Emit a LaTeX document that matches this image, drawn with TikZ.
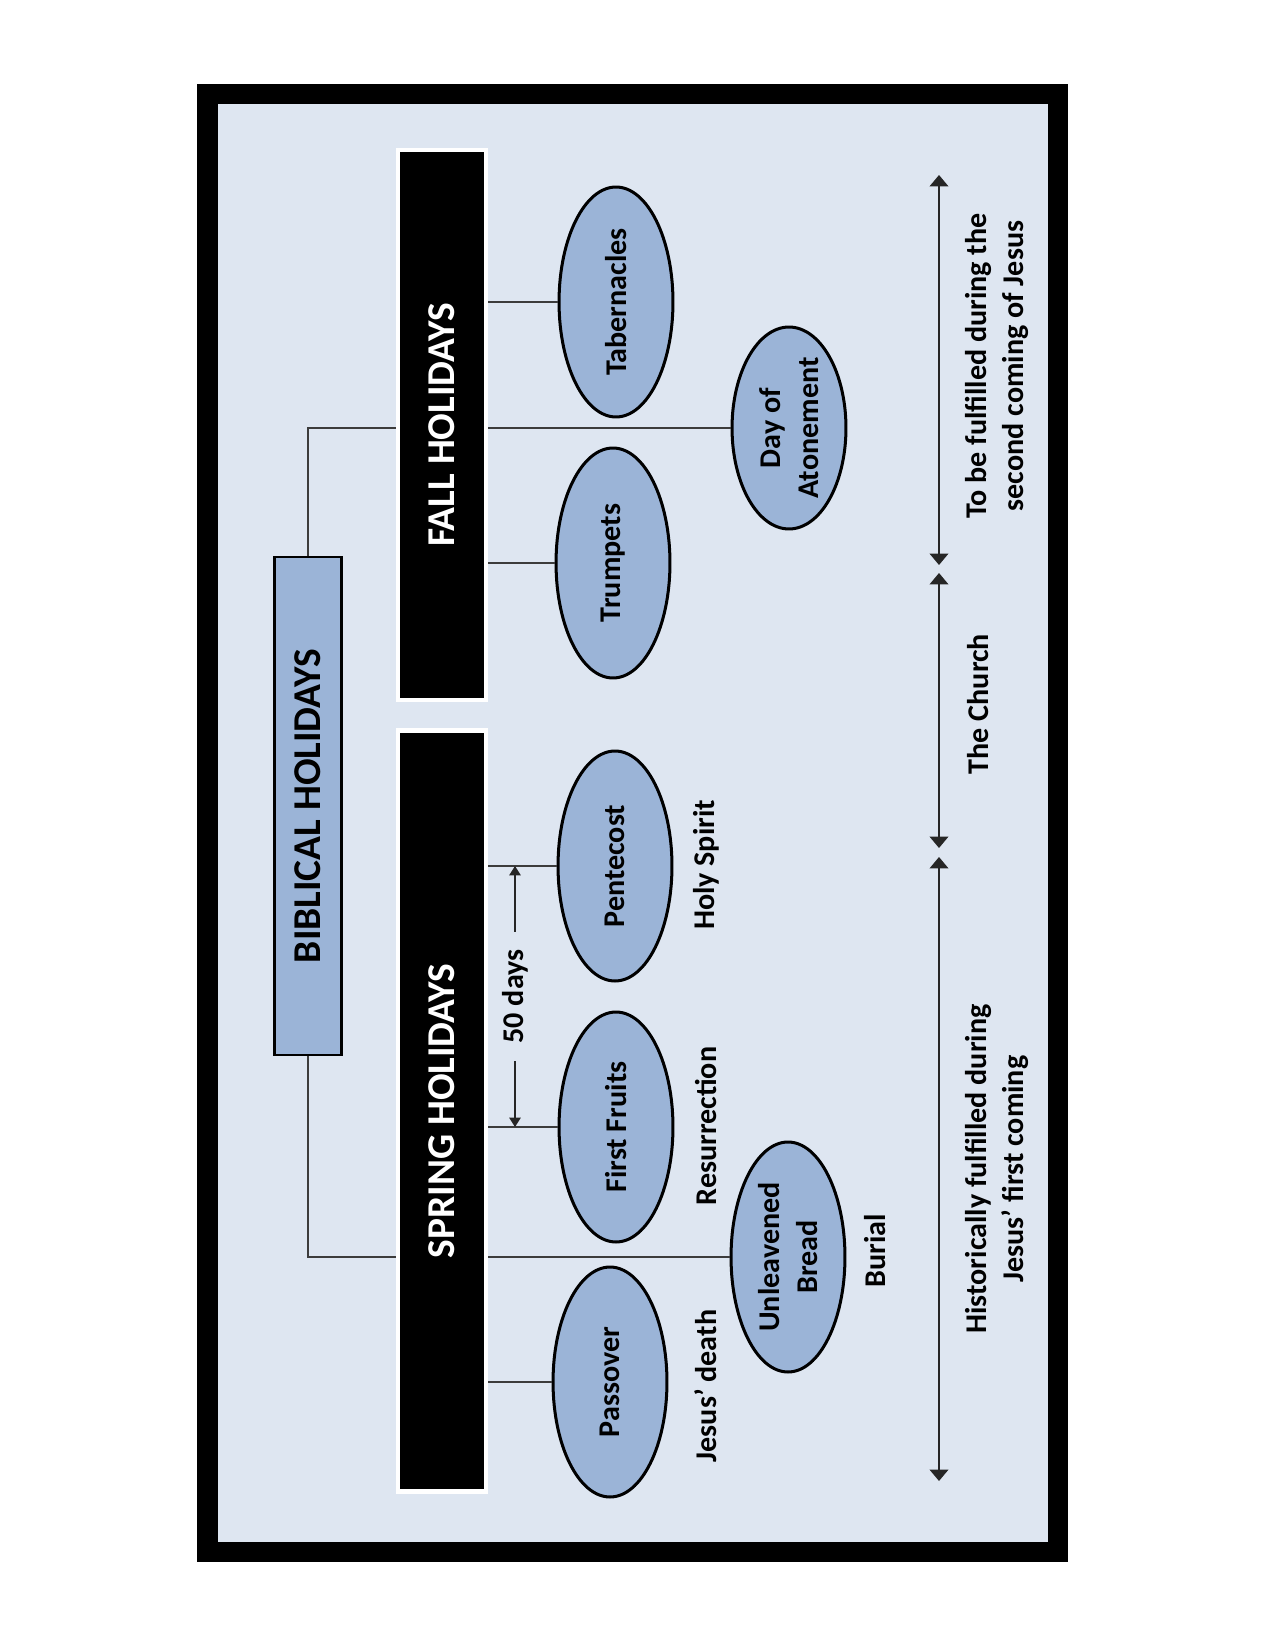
\documentclass[tikz,border=0pt]{standalone}
\usepackage{fontspec}
\setmainfont{Carlito}
\usetikzlibrary{shapes.geometric,arrows.meta}

\definecolor{paleblue}{HTML}{DEE6F1}
\definecolor{feastblue}{HTML}{9BB4D7}
\definecolor{linkgray}{HTML}{3C3C3C}

\tikzset{
  feast/.style={ellipse, draw=black, line width=1.45pt, fill=feastblue, rotate=90, inner sep=0pt,
     minimum width=110.8pt, minimum height=54.9pt, align=center,
     font=\bfseries\fontsize{14.5}{18}\selectfont},
  season/.style={rectangle, fill=black, draw=white, line width=2pt, rotate=90, text=white,
     minimum height=42.4pt, font=\bfseries\fontsize{19}{23}\selectfont},
  note/.style={rotate=90, align=center, inner sep=0pt, font=\bfseries\fontsize{14.5}{18}\selectfont},
  link/.style={draw=linkgray, line width=0.9pt},
  span/.style={draw=black!85, line width=0.8pt, {Triangle[width=9pt,length=5.5pt]}-{Triangle[width=9pt,length=5.5pt]}},
  days/.style={draw=black!85, line width=0.7pt, {Triangle[width=5.5pt,length=4.5pt]}-{Triangle[width=5.5pt,length=4.5pt]}}
}

\begin{document}
\begin{tikzpicture}[x=0.4818pt, y=-0.4818pt]
            \useasboundingbox (0,0) rectangle (1275,1650);
            \draw[line width=9.64pt, fill=paleblue] (207.5,94.5) rectangle (1057.5,1551.5);

            \node[rectangle, draw=black, line width=1.2pt, fill=feastblue, rotate=90, minimum width=239.9pt,
               minimum height=32.3pt, font=\bfseries\fontsize{19}{23}\selectfont] (bib) at (308,806) {BIBLICAL HOLIDAYS};
            \node[season, minimum width=265pt] (fall) at (442,425) {FALL HOLIDAYS};
            \node[season, minimum width=366.6pt] (spring) at (442,1111) {SPRING HOLIDAYS};

            \node[feast] (tab) at (616,302) {Tabernacles};
            \node[feast] (trum) at (613,563) {Trumpets};
            \node[feast, minimum width=97.3pt] (atone) at (789,428) {Day of\\Atonement};
            \node[feast] (pent) at (615,866) {Pentecost};
            \node[feast] (ffruit) at (616,1127) {First Fruits};
            \node[feast] (unl) at (788,1257) {Unleavened\\Bread};
            \node[feast] (pass) at (610,1382) {Passover};

            \node[note] (spirit) at (706,865) {Holy Spirit};
            \node[note] (resur) at (706,1126) {Resurrection};
            \node[note] (death) at (706,1386) {Jesus’ death};
            \node[note] (burial) at (875,1251) {Burial};
            \node[note] (second) at (997,366) {To be fulfilled during the\\second coming of Jesus};
            \node[note] (church) at (978,704) {The Church};
            \node[note] (first) at (997,1169) {Historically fulfilled during\\Jesus’ first coming};

            \draw[link] (bib.east) |- (fall.north |- atone);
            \draw[link] (bib.west) |- (spring.north |- unl);
            \foreach \f in {tab,trum,atone} \draw[link] (fall.south |- \f) -- (\f.north);
            \foreach \s in {pent,ffruit,unl,pass} \draw[link] (spring.south |- \s) -- (\s.north);

            \coordinate (dx) at (515,0);
            \draw[days] (dx |- pent) -- (dx |- ffruit) node[midway, rotate=90, fill=paleblue, inner xsep=8.7pt, inner ysep=1pt,
               font=\bfseries\fontsize{14.5}{18}\selectfont] (fifty) {50 days};

            \coordinate (s0) at (939,175);
            \coordinate (s1) at (939,565);
            \coordinate (s2) at (939,573);
            \coordinate (s3) at (939,848);
            \coordinate (s4) at (939,857);
            \coordinate (s5) at (939,1481);
            \draw[span] (s0) -- (s1);
            \draw[span] (s2) -- (s3);
            \draw[span] (s4) -- (s5);
\end{tikzpicture}
\end{document}
